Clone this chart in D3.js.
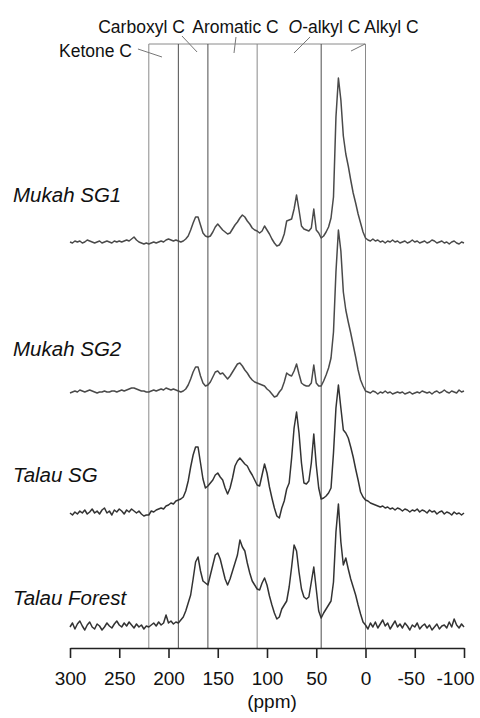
<!DOCTYPE html>
<html>
<head>
<meta charset="utf-8">
<script src="https://cdn.jsdelivr.net/npm/d3@7"></script>
<style>
  html, body { margin: 0; padding: 0; background: #fff; }
  svg { display: block; font-family: "Liberation Sans", Arial, Helvetica, sans-serif; }
</style>
</head>
<body>
<svg id="chart" width="480" height="718"></svg>
<script>
// Chemical shift sampling of the spectra (ppm, high to low)
const ppmStart = 300, ppmStep = 2.5;

const sampleNames = ["Mukah SG1", "Mukah SG2", "Talau SG", "Talau Forest"];
// Vertical stacking offset of each spectrum, in intensity units
const stackOffsets = [385, 235, 114, 0];

// 13C CP/MAS NMR intensities, 300 ppm down to -100 ppm in 2.5 ppm steps
const mukahSG1 = [
  0,-1,1,0,1,-1,0,2,1,0,-1,0,1,-1,0,1,0,-1,1,0,1,0,1,2,1,3,5,2,0,-1,-2,-1,
  -2,-1,0,-1,0,1,0,2,3,2,1,2,1,0,
  1,3,6,12,19,25,25,17,9,6,
  5,6,10,15,18,15,12,10,8,9,
  13,17,20,24,27,25,21,18,14,12,
  11,9,11,16,12,8,3,-1,-4,-3,
  1,8,21,22,23,33,47,32,16,13,
  12,11,14,33,12,9,4,6,10,15,
  24,45,125,164,142,106,88,76,62,49,
  39,28,19,10,4,
  2,1,3,1,2,0,1,-1,1,0,2,0,1,-1,0,1,-1,0,2,0,
  1,-1,0,1,-1,0,2,1,-1,0,1,-1,0,-2,0,1,-1,-2,0,-1
];
const mukahSG2 = [
  -1,0,1,0,2,1,0,1,2,1,0,-1,0,0,1,0,0,1,1,0,1,2,1,2,3,4,4,3,2,1,1,0,
  0,1,2,1,2,3,2,4,3,2,3,2,1,0,
  1,3,7,13,20,25,25,16,9,6,
  7,10,15,20,21,18,19,16,13,16,
  20,24,28,29,26,22,19,15,12,10,
  9,8,7,6,3,1,-2,-5,-4,0,
  3,10,19,17,16,21,28,18,9,7,
  6,6,9,27,9,6,6,11,17,24,
  34,60,120,162,141,100,82,70,59,47,
  35,22,12,6,1,
  0,-1,1,0,-2,0,-1,1,-1,0,-2,-1,0,-1,0,-2,-1,0,-2,-1,
  0,-1,1,0,-1,0,-2,0,1,-1,0,2,0,-1,1,0,-1,2,0,1
];
const talauSG = [
  0,-2,1,-1,2,0,3,-1,1,4,0,2,-1,3,5,0,2,-2,3,1,4,2,-1,3,1,4,2,0,2,-1,-3,-2,
  -2,2,1,3,4,5,4,7,8,10,9,12,13,14,
  16,22,32,46,58,66,66,50,34,25,
  27,30,33,38,40,36,33,25,19,25,
  35,47,52,55,52,49,47,42,38,33,
  28,27,38,49,40,26,15,5,-3,-5,
  5,12,24,30,55,85,101,80,50,30,
  29,32,50,79,48,25,14,15,17,20,
  25,60,105,128,105,83,80,75,66,56,
  44,33,21,16,13,
  12,10,9,8,7,6,7,5,6,4,5,3,5,4,2,4,3,1,3,2,
  4,1,3,2,0,3,1,2,-1,1,2,-1,1,0,-2,1,-1,0,-2,0
];
const talauForest = [
  0,4,-2,3,6,1,-3,2,5,0,-2,3,1,-3,0,4,1,-1,3,6,2,0,4,1,5,2,-1,3,0,2,-2,1,
  0,2,4,1,5,2,4,12,4,6,3,5,4,7,
  10,16,24,32,48,65,70,56,46,44,
  42,52,62,72,74,68,58,48,42,48,
  56,64,72,87,80,76,64,54,46,42,
  38,37,44,49,42,31,22,14,8,10,
  18,22,26,40,60,82,76,55,38,30,
  28,30,45,60,38,16,9,14,18,22,
  26,45,95,123,85,62,69,58,48,40,
  32,22,13,5,2,
  -2,4,0,5,-1,3,7,1,4,-2,2,6,0,3,-1,4,1,-3,2,0,
  4,-2,1,3,-1,2,-3,0,3,-2,1,2,-1,5,0,8,2,-1,3,0
];
const spectra = [mukahSG1, mukahSG2, talauSG, talauForest];

// Boundaries of the chemical shift regions (ppm)
const regionBounds = [220, 190, 160, 110, 45, 0];
const regionNames = ["Ketone C", "Carboxyl C", "Aromatic C", "O-alkyl C", "Alkyl C"];
const tickValues = [300, 250, 200, 150, 100, 50, 0, -50, -100];

// ---- layout ----
const svg = d3.select("#chart");
const x = d3.scaleLinear().domain([300, -100]).range([70, 464]);
const y = d3.scaleLinear().domain([0, 400]).range([627, 227]);
const axisY = 648, boxTop = 44;

// region boundary lines
const boundaryColor = d => (d === 190 || d === 160 || d === 45) ? "#4d4d4d" : "#8a8a8a";
svg.append("line")
  .attr("x1", x(regionBounds[0])).attr("x2", x(regionBounds[regionBounds.length - 1]))
  .attr("y1", boxTop).attr("y2", boxTop)
  .attr("stroke", "#8a8a8a").attr("stroke-width", 1);
svg.selectAll("line.bound").data(regionBounds).join("line")
  .attr("class", "bound")
  .attr("x1", d => x(d)).attr("x2", d => x(d))
  .attr("y1", boxTop).attr("y2", axisY)
  .attr("stroke", boundaryColor).attr("stroke-width", 1);

// region captions with leader lines
const captionLayout = [
  { ppm: 237.1, anchor: "end",    baseline: 57, leader: [[231, 49], [206.6, 57]] },
  { ppm: 227.4, anchor: "middle", baseline: 33, leader: [[186.3, 36], [171, 52]] },
  { ppm: 132.0, anchor: "middle", baseline: 33, leader: [[131.5, 37], [133.5, 53]] },
  { ppm: 41.6,  anchor: "middle", baseline: 33, leader: [[56.3, 37], [72.6, 53]] },
  { ppm: -26.4, anchor: "middle", baseline: 33, leader: [[0.5, 44], [14.7, 51]] }
];
captionLayout.forEach((c, i) => {
  const t = svg.append("text")
    .attr("x", x(c.ppm)).attr("y", c.baseline)
    .attr("text-anchor", c.anchor)
    .attr("font-size", 17.5).attr("fill", "#111");
  const name = regionNames[i];
  if (name.startsWith("O-")) {
    t.append("tspan").attr("font-style", "italic").text("O");
    t.append("tspan").text(name.slice(1));
  } else {
    t.text(name);
  }
  svg.append("line")
    .attr("x1", x(c.leader[0][0])).attr("y1", c.leader[0][1])
    .attr("x2", x(c.leader[1][0])).attr("y2", c.leader[1][1])
    .attr("stroke", "#777").attr("stroke-width", 1);
});

// spectra
const line = d3.line()
  .x((d, i) => x(ppmStart - i * ppmStep))
  .y(d => d);
const lineColors = ["#4a4a4a", "#4a4a4a", "#333", "#333"];
spectra.forEach((s, k) => {
  svg.append("path")
    .datum(s.map(v => y(v + stackOffsets[k])))
    .attr("d", line)
    .attr("fill", "none")
    .attr("stroke", lineColors[k])
    .attr("stroke-width", 1.5)
    .attr("stroke-linejoin", "round");
});

// sample names
const nameBaselines = [202, 356, 482, 605];
svg.selectAll("text.sample").data(sampleNames).join("text")
  .attr("class", "sample")
  .attr("x", 13).attr("y", (d, i) => nameBaselines[i])
  .attr("font-size", 20.5).attr("font-style", "italic").attr("fill", "#111")
  .text(d => d);

// ppm axis
const axis = svg.append("g")
  .attr("transform", `translate(0,${axisY})`)
  .call(d3.axisBottom(x).tickValues(tickValues).tickSize(10).tickSizeOuter(0)
    .tickFormat(d => String(d)));
axis.select(".domain").attr("stroke", "#222").attr("stroke-width", 1.6);
axis.selectAll(".tick line").attr("stroke", "#222").attr("stroke-width", 1.6);
// negative labels sit a little left so the last one stays inside the frame
axis.selectAll(".tick text")
  .attr("y", 37).attr("dy", 0)
  .attr("dx", d => d === -100 ? -9 : (d < 0 ? -4 : 0))
  .attr("font-size", 19).attr("fill", "#111")
  .attr("font-family", "'Liberation Sans', Arial, sans-serif");

svg.append("text")
  .attr("x", 272).attr("y", 708)
  .attr("text-anchor", "middle")
  .attr("font-size", 19).attr("fill", "#111")
  .text("(ppm)");
</script>
</body>
</html>
